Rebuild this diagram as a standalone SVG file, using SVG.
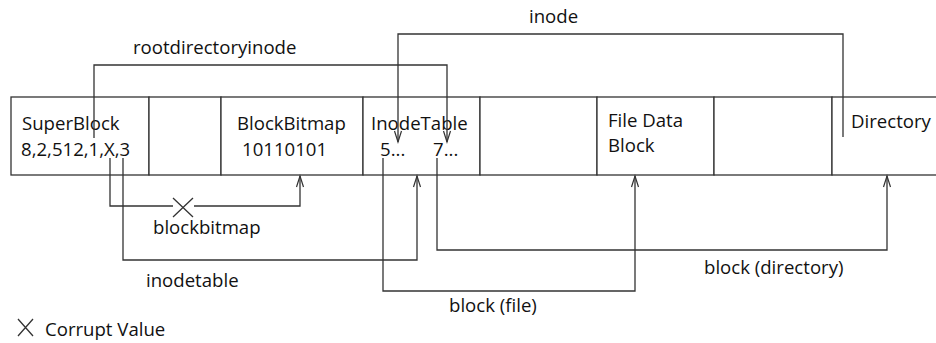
<svg xmlns="http://www.w3.org/2000/svg" width="936" height="343" viewBox="0 0 936 343">
<style>
  text { font-family: "Open Sans", "Noto Sans", "Liberation Sans", sans-serif; font-size: 18.6px; fill: #111111; }
  .box { fill: #ffffff; stroke: #333333; stroke-width: 1.3; }
  .conn { fill: none; stroke: #333333; stroke-width: 1.3; }
  .arr { fill: none; stroke: #333333; stroke-width: 1.2; }
</style>
<defs>
  <marker id="ah" markerUnits="userSpaceOnUse" markerWidth="14" markerHeight="14" viewBox="-12 -6 14 12" refX="0" refY="0" orient="auto">
    <path d="M-11,-3.5 L0,0 L-11,3.5" class="arr"/>
  </marker>
</defs>
<rect width="936" height="343" fill="#ffffff"/>

<g id="superblock">
  <rect class="box" x="11" y="97" width="138" height="78"/>
  <text x="22" y="130">SuperBlock</text>
  <text x="21" y="156">8,2,512,1,X,3</text>
</g>
<g id="block2">
  <rect class="box" x="149" y="97" width="72" height="78"/>
</g>
<g id="blockbitmap">
  <rect class="box" x="221" y="97" width="142" height="78"/>
  <text x="237" y="130">BlockBitmap</text>
  <text x="242" y="156">10110101</text>
</g>
<g id="inodetable">
  <rect class="box" x="363" y="97" width="117" height="78"/>
  <text x="371" y="130">InodeTable</text>
  <text x="380" y="156">5...</text>
  <text x="433" y="156">7...</text>
</g>
<g id="block5">
  <rect class="box" x="480" y="97" width="117" height="78"/>
</g>
<g id="filedata">
  <rect class="box" x="597" y="97" width="117" height="78"/>
  <text x="608" y="127">File Data</text>
  <text x="608" y="152">Block</text>
</g>
<g id="block7">
  <rect class="box" x="714" y="97" width="118" height="78"/>
</g>
<g id="directory">
  <rect class="box" x="832" y="97" width="120" height="78"/>
  <text x="851" y="128">Directory</text>
</g>

<g id="connectors">
  <path class="conn" d="M94,138 V65 H447 V142" marker-end="url(#ah)"/>
  <path class="conn" d="M843,137 V34 H398 V142" marker-end="url(#ah)"/>
  <path class="conn" d="M110,158 V206 H173"/>
  <path class="conn" d="M194,206 H300 V176" marker-end="url(#ah)"/>
  <path class="conn" d="M173,198 L193,217 M193,198 L173,217"/>
  <path class="conn" d="M123,158 V260 H417 V176" marker-end="url(#ah)"/>
  <path class="conn" d="M383,158 V291 H635 V176" marker-end="url(#ah)"/>
  <path class="conn" d="M437,158 V250 H887 V176" marker-end="url(#ah)"/>
  <text x="133" y="54">rootdirectoryinode</text>
  <text x="529" y="23">inode</text>
  <text x="153" y="234">blockbitmap</text>
  <text x="146" y="287">inodetable</text>
  <text x="449" y="312">block (file)</text>
  <text x="704" y="274">block (directory)</text>
</g>

<g id="legend">
  <path class="conn" d="M18,319 L33,336 M33,319 L18,336"/>
  <text x="45" y="336">Corrupt Value</text>
</g>
</svg>
